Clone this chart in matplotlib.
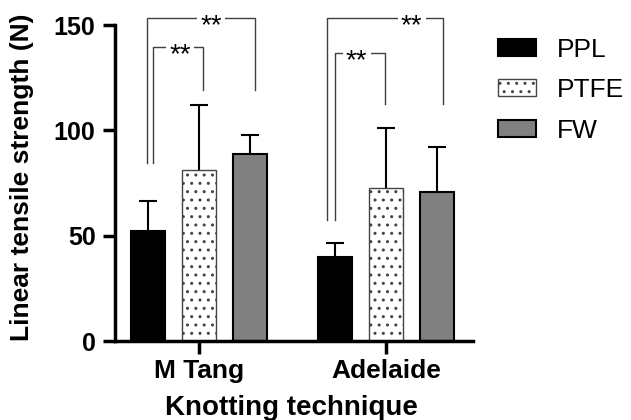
import numpy as np
import matplotlib.pyplot as plt
from matplotlib.patches import Patch

plt.rcParams['font.family'] = ['Liberation Sans', 'DejaVu Sans']

# data
techniques = ["M Tang", "Adelaide"]
materials = ["PPL", "PTFE", "FW"]
mean_ppl = [52.4, 39.8]
mean_ptfe = [81.0, 72.8]
mean_fw = [89.0, 70.6]
sd_ppl = [14.1, 6.6]
sd_ptfe = [31.0, 28.2]
sd_fw = [9.0, 21.7]
y_ticks = [0, 50, 100, 150]

# significance brackets: (x_left, x_right, top, left_end, right_end, star_x)
brackets = [
    (-0.276, 0.299, 153.6, 84.4, 119.2, 0.064),
    (-0.248, 0.023, 139.5, 84.4, 119.2, -0.102),
    (0.683, 1.306, 153.6, 57.5, 112.4, 1.137),
    (0.727, 0.995, 136.7, 57.5, 112.4, 0.843),
]

fig = plt.figure(figsize=(6.31, 4.2), dpi=100)
ax = fig.add_axes([0.1823, 0.188, 0.5674, 0.752])

x = np.arange(len(techniques))
off = 0.273
w = 0.182

styles = [
    dict(color="black", edgecolor="black", linewidth=1.5),
    dict(color="white", edgecolor="#444444", linewidth=1.0, hatch=".."),
    dict(color="#808080", edgecolor="black", linewidth=1.5),
]
means = [mean_ppl, mean_ptfe, mean_fw]
sds = [sd_ppl, sd_ptfe, sd_fw]

for i in range(3):
    pos = x + (i - 1) * off
    ax.bar(pos, means[i], width=w, zorder=2, **styles[i])
    eb = ax.errorbar(pos, means[i], yerr=[np.zeros(len(pos)), sds[i]], fmt="none",
                     ecolor="black", elinewidth=1.5, capsize=6.5, capthick=1.5, zorder=1)
    # only the upper cap is shown
    eb[1][0].set_visible(False)

for xl, xr, top, yl, yr, sx in brackets:
    ax.plot([xl, xl, xr, xr], [yl, top, top, yr], color="#404040", lw=1.0,
            clip_on=False, zorder=3)
    ax.annotate("**", xy=(sx, top), xytext=(0, -11), textcoords="offset points",
                ha="center", va="baseline", fontsize=20, annotation_clip=False,
                bbox=dict(boxstyle="square,pad=0.12", fc="white", ec="none"),
                zorder=4)

ax.set_xlim(-0.449, 1.465)
ax.set_ylim(0, 150)
ax.set_yticks(y_ticks)
ax.set_xticks(x)
ax.set_xticklabels(techniques)
for s in ["top", "right"]:
    ax.spines[s].set_visible(False)
for s in ["left", "bottom"]:
    ax.spines[s].set_linewidth(2.5)
ax.tick_params(axis="both", length=9, width=2.5, pad=5)
ax.tick_params(axis="y", labelsize=18)
ax.tick_params(axis="x", labelsize=19, pad=4)
for lab in ax.get_xticklabels() + ax.get_yticklabels():
    lab.set_fontweight("bold")

ax.set_ylabel("Linear tensile strength (N)", fontsize=19, fontweight="bold", va="center")
ax.yaxis.set_label_coords(-0.26, 0.52)
ax.set_xlabel("Knotting technique", fontsize=20, fontweight="bold", va="center")
ax.xaxis.set_label_coords(0.494, -0.212)

handles = [Patch(facecolor="black", edgecolor="black", linewidth=1.5),
           Patch(facecolor="white", edgecolor="#444444", linewidth=1.0, hatch=".."),
           Patch(facecolor="#808080", edgecolor="black", linewidth=1.5)]
fig.legend(handles, materials, loc="upper left", bbox_to_anchor=(0.79, 0.91),
           frameon=False, fontsize=19, borderpad=0, borderaxespad=0,
           handlelength=1.44, handleheight=0.6, handletextpad=0.79,
           labelspacing=0.62)

fig.savefig("out.png", dpi=100)
